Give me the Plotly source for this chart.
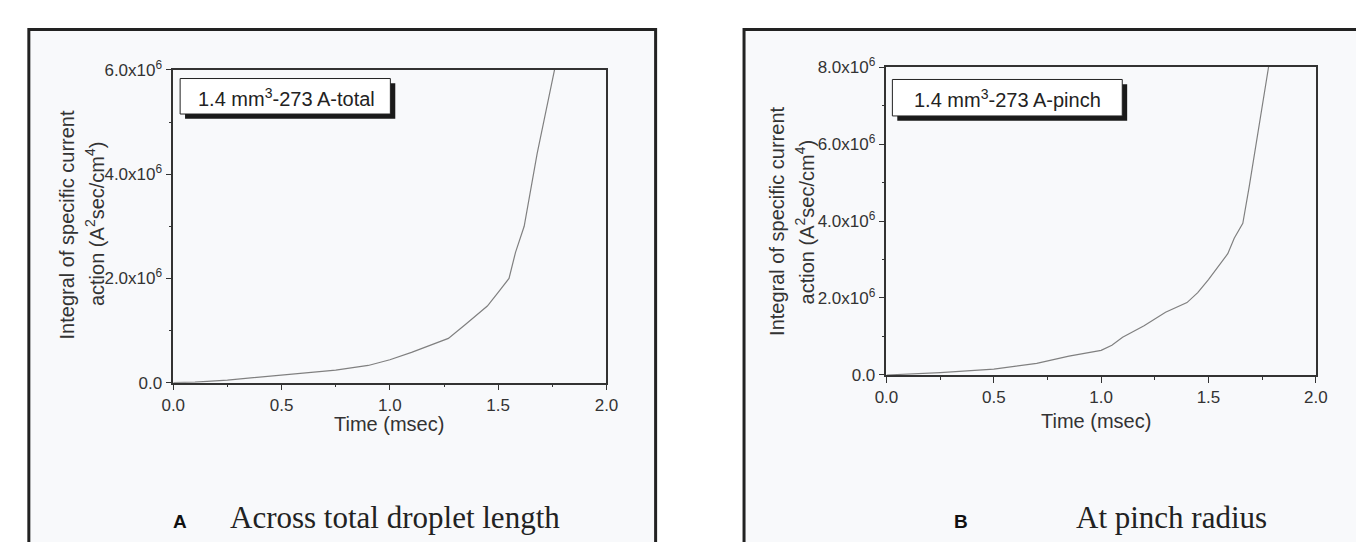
import plotly.graph_objects as go

# ---------------- data ----------------
time_total = [0, 0.1, 0.25, 0.5, 0.75, 0.9, 1.0, 1.1, 1.27, 1.35, 1.45, 1.5, 1.55, 1.58, 1.62, 1.68, 1.76]
action_total = [0, 0.01e6, 0.05e6, 0.14e6, 0.24e6, 0.33e6, 0.44e6, 0.58e6, 0.85e6, 1.12e6, 1.47e6,
                1.73e6, 2.0e6, 2.5e6, 3.0e6, 4.4e6, 6.0e6]

time_pinch = [0, 0.25, 0.5, 0.7, 0.85, 1.0, 1.05, 1.1, 1.2, 1.3, 1.4, 1.45, 1.5, 1.55, 1.59, 1.62,
              1.66, 1.69, 1.71, 1.74, 1.78]
action_pinch = [0, 0.06e6, 0.15e6, 0.3e6, 0.49e6, 0.64e6, 0.77e6, 0.98e6, 1.28e6, 1.63e6, 1.88e6,
                2.14e6, 2.48e6, 2.87e6, 3.15e6, 3.55e6, 3.94e6, 4.9e6, 5.6e6, 6.6e6, 8.0e6]

x_ticks = [0, 0.5, 1.0, 1.5, 2.0]
x_tick_labels = ["0.0", "0.5", "1.0", "1.5", "2.0"]
x_minor = [0.25, 0.75, 1.25, 1.75]

y_ticks_a = [0, 2e6, 4e6, 6e6]
y_tick_labels_a = ["0.0", "2.0x10<sup>6</sup>", "4.0x10<sup>6</sup>", "6.0x10<sup>6</sup>"]
y_minor_a = [1e6, 3e6, 5e6]

y_ticks_b = [0, 2e6, 4e6, 6e6, 8e6]
y_tick_labels_b = ["0.0", "2.0x10<sup>6</sup>", "4.0x10<sup>6</sup>", "6.0x10<sup>6</sup>", "8.0x10<sup>6</sup>"]
y_minor_b = [1e6, 3e6, 5e6, 7e6]

legend_a = "1.4 mm<sup>3</sup>-273 A-total"
legend_b = "1.4 mm<sup>3</sup>-273 A-pinch"
y_title_1 = "Integral of specific current"
y_title_2 = "action (A<sup>2</sup>sec/cm<sup>4</sup>)"
x_title = "Time (msec)"
caption_a = "Across total droplet length"
caption_b = "At pinch radius"

# ---------------- layout helpers ----------------
W, H = 1364, 542


def px(x):
    return x / W


def py(y):
    return 1 - y / H


SANS = "Liberation Sans, Arial, sans-serif"
SERIF = "Liberation Serif, Times New Roman, serif"
INK = "#333333"
PANEL = "#f8f9fb"

fig = go.Figure()
fig.add_trace(go.Scatter(x=time_total, y=action_total, mode="lines",
                         line=dict(color="#808080", width=1.2), xaxis="x", yaxis="y",
                         showlegend=False, hoverinfo="skip"))
fig.add_trace(go.Scatter(x=time_pinch, y=action_pinch, mode="lines",
                         line=dict(color="#808080", width=1.2), xaxis="x2", yaxis="y2",
                         showlegend=False, hoverinfo="skip"))


def axis_common():
    return dict(showline=True, linecolor=INK, linewidth=1.5, mirror=True,
                ticks="outside", ticklen=6, tickwidth=1.2, tickcolor=INK,
                showgrid=False, zeroline=False, fixedrange=True,
                tickfont=dict(family=SANS, size=17, color=INK))


xa = axis_common()
xa.update(domain=[px(156), px(597)], range=[0, 2], tickmode="array", tickvals=x_ticks,
          ticktext=x_tick_labels, anchor="y",
          minor=dict(ticks="outside", ticklen=3, tickcolor=INK, tickmode="array", tickvals=x_minor))
ya = axis_common()
ya.update(domain=[py(378), py(52)], range=[0, 6e6], tickmode="array", tickvals=y_ticks_a,
          ticktext=y_tick_labels_a, anchor="x",
          minor=dict(ticks="outside", ticklen=3, tickcolor=INK, tickmode="array", tickvals=y_minor_a))
xb = axis_common()
xb.update(domain=[px(882), px(1319)], range=[0, 2], tickmode="array", tickvals=x_ticks,
          ticktext=x_tick_labels, anchor="y2",
          minor=dict(ticks="outside", ticklen=3, tickcolor=INK, tickmode="array", tickvals=x_minor))
yb = axis_common()
yb.update(domain=[py(370), py(49)], range=[0, 8e6], tickmode="array", tickvals=y_ticks_b,
          ticktext=y_tick_labels_b, anchor="x2",
          minor=dict(ticks="outside", ticklen=3, tickcolor=INK, tickmode="array", tickvals=y_minor_b))

shapes = []
# panel frames
for x0, x1 in [(9, 647), (737, 1380)]:
    shapes.append(dict(type="rect", xref="paper", yref="paper", x0=px(x0), x1=px(x1),
                       y0=py(560), y1=py(10), fillcolor=PANEL,
                       line=dict(color="#222222", width=3), layer="below"))
# legend boxes with drop shadow
for (x0, y0, x1, y1) in [(163, 61, 377, 98), (888, 62, 1122, 100)]:
    shapes.append(dict(type="rect", xref="paper", yref="paper", x0=px(x0 + 5), x1=px(x1 + 5),
                       y0=py(y1 + 5), y1=py(y0 + 5), fillcolor="#1a1a1a",
                       line=dict(width=0), layer="above"))
    shapes.append(dict(type="rect", xref="paper", yref="paper", x0=px(x0), x1=px(x1),
                       y0=py(y1), y1=py(y0), fillcolor="#ffffff",
                       line=dict(color="#222222", width=1), layer="above"))

ann = []


def text(x, y, s, size, family=SANS, color=INK, angle=0, bold=False):
    ann.append(dict(xref="paper", yref="paper", x=px(x), y=py(y), text=("<b>%s</b>" % s) if bold else s,
                    showarrow=False, xanchor="center", yanchor="middle", textangle=angle,
                    font=dict(family=family, size=size, color=color)))


text(271, 81, legend_a, 20, color="#222222")
text(1005, 82, legend_b, 20, color="#222222")
text(48, 214, y_title_1, 20, angle=-90)
text(76, 212, y_title_2, 20, angle=-90)
text(771, 210, y_title_1, 20, angle=-90)
text(799, 210, y_title_2, 20, angle=-90)
text(376, 421, x_title, 20)
text(1095, 418, x_title, 20)
text(163, 523, "A", 19, color="#111111", bold=True)
text(382, 519, caption_a, 31, family=SERIF, color="#222222")
text(958, 523, "B", 19, color="#111111", bold=True)
text(1172, 519, caption_b, 31, family=SERIF, color="#222222")

fig.update_layout(width=W, height=H, margin=dict(l=0, r=0, t=0, b=0), autosize=False,
                  paper_bgcolor="#ffffff", plot_bgcolor="rgba(0,0,0,0)",
                  xaxis=xa, yaxis=ya, xaxis2=xb, yaxis2=yb,
                  shapes=shapes, annotations=ann, showlegend=False)

fig.write_html("out.html", config={"displayModeBar": False})
